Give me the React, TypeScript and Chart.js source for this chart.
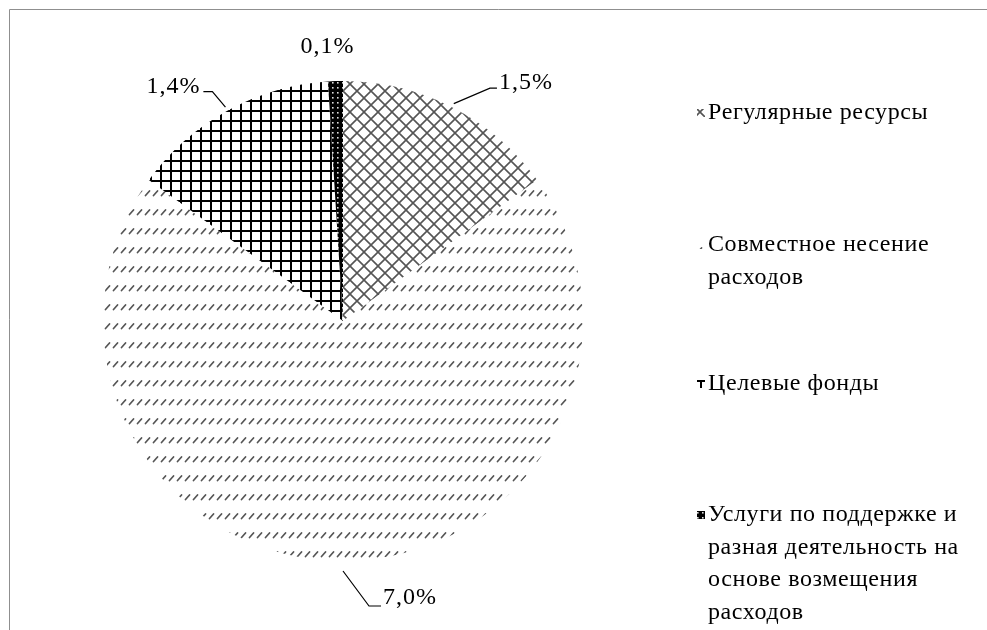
import React, { useEffect, useRef } from "react";
import { Chart, registerables } from "chart.js";

Chart.register(...registerables);

const categories = [
  "Регулярные ресурсы",
  "Совместное несение расходов",
  "Целевые фонды",
  "Услуги по поддержке и разная деятельность на основе возмещения расходов",
];
const values = [1.5, 7.0, 1.4, 0.1];
const valueLabels = ["1,5%", "7,0%", "1,4%", "0,1%"];

const FONT = '24px "Liberation Serif", "Times New Roman", serif';

function makePattern(w: number, h: number, draw: (g: CanvasRenderingContext2D) => void) {
  const c = document.createElement("canvas");
  c.width = w;
  c.height = h;
  const g = c.getContext("2d")!;
  draw(g);
  return g.createPattern(c, "repeat")!;
}

function buildPatterns() {
  const cross = makePattern(14, 14, (g) => {
    g.fillStyle = "#fff";
    g.fillRect(0, 0, 14, 14);
    g.strokeStyle = "#555";
    g.lineWidth = 1.6;
    g.beginPath();
    g.moveTo(-2, -2);
    g.lineTo(16, 16);
    g.moveTo(-2, 16);
    g.lineTo(16, -2);
    g.stroke();
  });
  const dashes = makePattern(8, 19, (g) => {
    g.fillStyle = "#fff";
    g.fillRect(0, 0, 8, 19);
    g.strokeStyle = "#555";
    g.lineWidth = 1.7;
    g.lineCap = "round";
    g.beginPath();
    g.moveTo(1.5, 5.5);
    g.lineTo(5.5, 1);
    g.stroke();
  });
  const grid = makePattern(10, 10, (g) => {
    g.fillStyle = "#fff";
    g.fillRect(0, 0, 10, 10);
    g.fillStyle = "#000";
    g.fillRect(0, 0, 2, 10);
    g.fillRect(0, 0, 10, 2);
  });
  const dots = makePattern(5, 5, (g) => {
    g.fillStyle = "#000";
    g.fillRect(0, 0, 5, 5);
    g.fillStyle = "#ddd";
    g.fillRect(2, 2, 1.6, 1.6);
  });
  return [cross, dashes, grid, dots];
}

function wrapText(ctx: CanvasRenderingContext2D, text: string, maxW: number) {
  const words = text.split(" ");
  const lines: string[] = [];
  let cur = "";
  for (const w of words) {
    const t = cur ? cur + " " + w : w;
    if (ctx.measureText(t).width > maxW && cur) {
      lines.push(cur);
      cur = w;
    } else cur = t;
  }
  if (cur) lines.push(cur);
  return lines;
}

export default function App() {
  const ref = useRef<HTMLCanvasElement | null>(null);

  useEffect(() => {
    document.body.style.margin = "0";
    const canvas = ref.current!;
    const patterns = buildPatterns();

    // leader layout per slice: elbow offset from edge point, text side
    const leaders = [
      { start: 4, elbow: [38, -19], end: 7, side: "right", ty: -5 },
      { start: 10, elbow: [26, 45], end: 12, side: "right", ty: -8 },
      { start: 4, elbow: [-15, -19], end: -9, side: "left", ty: -5 },
      { start: 0, elbow: null as any, end: 0, side: "top", ty: 0 },
    ];

    const legendTops = [113, 245, 384, 515];
    const lineH = 32.5;

    const overlay = {
      id: "overlay",
      beforeDraw(chart: any) {
        const ctx = chart.ctx;
        ctx.save();
        ctx.fillStyle = "#fff";
        ctx.fillRect(0, 0, chart.width, chart.height);
        ctx.restore();
      },
      afterDraw(chart: any) {
        const ctx: any = chart.ctx;
        ctx.save();
        // frame
        ctx.strokeStyle = "#8f8f8f";
        ctx.lineWidth = 1;
        ctx.beginPath();
        ctx.moveTo(9.5, chart.height);
        ctx.lineTo(9.5, 9.5);
        ctx.lineTo(chart.width, 9.5);
        ctx.stroke();

        // data labels
        const meta = chart.getDatasetMeta(0);
        ctx.font = FONT;
        ctx.letterSpacing = "1px";
        ctx.fillStyle = "#000";
        ctx.strokeStyle = "#000";
        ctx.lineWidth = 1.2;
        meta.data.forEach((arc: any, i: number) => {
          const p = arc.getProps(["x", "y", "startAngle", "endAngle", "outerRadius"], true);
          const mid = (p.startAngle + p.endAngle) / 2;
          const R = p.outerRadius;
          const ex = p.x + Math.cos(mid) * R;
          const ey = p.y + Math.sin(mid) * R;
          const L = leaders[i];
          if (L.side === "top") {
            ctx.textAlign = "center";
            ctx.textBaseline = "middle";
            ctx.fillText(valueLabels[i], ex - 8, ey - 34);
            return;
          }
          const sx = p.x + Math.cos(mid) * (R + L.start);
          const sy = p.y + Math.sin(mid) * (R + L.start);
          const bx = ex + L.elbow[0];
          const by = ey + L.elbow[1];
          const fx = bx + L.end;
          ctx.beginPath();
          ctx.moveTo(sx, sy);
          ctx.lineTo(bx, by);
          ctx.lineTo(fx, by);
          ctx.stroke();
          ctx.textBaseline = "middle";
          if (L.side === "right") {
            ctx.textAlign = "left";
            ctx.fillText(valueLabels[i], fx + 2, by + L.ty);
          } else {
            ctx.textAlign = "right";
            ctx.fillText(valueLabels[i], fx - 3, by + L.ty);
          }
        });

        // legend
        ctx.letterSpacing = "0.6px";
        ctx.textAlign = "left";
        ctx.textBaseline = "middle";
        categories.forEach((cat, i) => {
          const lines = wrapText(ctx, cat, 262);
          const y0 = legendTops[i];
          ctx.fillStyle = patterns[i];
          ctx.fillRect(697, y0 - 4, 8, 8);
          ctx.fillStyle = "#000";
          lines.forEach((ln, j) => ctx.fillText(ln, 708, y0 + j * lineH));
        });
        ctx.restore();
      },
    };

    const chart = new Chart(canvas, {
      type: "pie",
      data: {
        labels: categories,
        datasets: [
          {
            data: values,
            backgroundColor: patterns as any,
            borderWidth: 0,
          },
        ],
      },
      options: {
        responsive: false,
        animation: false,
        devicePixelRatio: 1,
        layout: { padding: { left: 103, right: 404, top: 81, bottom: 69 } },
        plugins: {
          legend: { display: false },
          tooltip: { enabled: false },
        },
      },
      plugins: [overlay],
    });
    return () => chart.destroy();
  }, []);

  return <canvas ref={ref} width={987} height={630} style={{ display: "block" }} />;
}
